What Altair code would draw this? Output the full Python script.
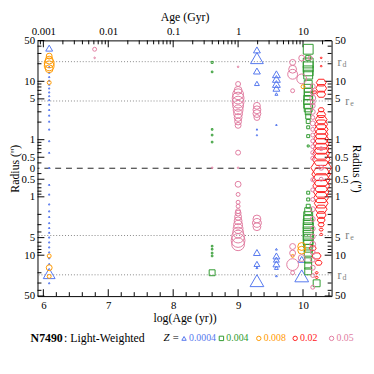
import math
import numpy as np
import pandas as pd
import altair as alt

# ---------------- data -----------------
# each entry: (log age [yr], radius [arcsec], side (+1 upper / -1 lower), marker weight)
POP_0004 = [
    (6.09, 37, 1, 7), (6.09, 17.7, 1, 1.6), (6.09, 14.1, 1, 1.6), (6.09, 11.9, 1, 1.6),
    (6.09, 10.3, 1, 1.6), (6.09, 8.8, 1, 1.6), (6.09, 7.6, 1, 1.6), (6.09, 6.5, 1, 1.6),
    (6.09, 5.6, 1, 1.6), (6.09, 4.8, 1, 1.6), (6.09, 4.0, 1, 1.6), (6.09, 3.25, 1, 1.6),
    (6.09, 2.6, 1, 1.6), (6.09, 2.05, 1, 1.6), (6.09, 1.5, 1, 1.6), (6.09, 0.95, 1, 1.6),
    (6.09, 0.6, 1, 1.6), (6.09, 0.33, 1, 1.6),
    (6.09, 0.62, -1, 1.6), (6.09, 0.91, -1, 1.6), (6.09, 1.34, -1, 1.6), (6.09, 1.76, -1, 1.6),
    (6.09, 2.2, -1, 1.6), (6.09, 2.8, -1, 1.6), (6.09, 3.4, -1, 1.6), (6.09, 4.1, -1, 1.6),
    (6.09, 4.95, -1, 1.6), (6.09, 6.0, -1, 1.6), (6.09, 7.3, -1, 1.6), (6.09, 8.9, -1, 1.6),
    (6.09, 11.2, -1, 1.6), (6.09, 14.1, -1, 1.6), (6.09, 30, -1, 1.6), (6.09, 20.6, -1, 12),
    (9.29, 34.5, 1, 7), (9.29, 25, 1, 13), (9.29, 15, 1, 7), (9.29, 9.2, 1, 5),
    (9.29, 1.5, 1, 1.6), (9.29, 1.2, 1, 1.5),
    (9.29, 9.0, -1, 7), (9.29, 14.1, -1, 6), (9.29, 16.4, -1, 2), (9.29, 27.3, -1, 14),
    (9.59, 13.2, 1, 8), (9.59, 11.0, 1, 8), (9.59, 9.0, 1, 8), (9.59, 7.6, 1, 7),
    (9.59, 6.05, 1, 3), (9.59, 1.8, 1, 1.6),
    (9.59, 7.9, -1, 2), (9.59, 10.3, -1, 7), (9.59, 11.9, -1, 6), (9.59, 14.1, -1, 7),
    (9.59, 16.4, -1, 4), (9.59, 22.6, -1, 2),
    (9.98, 11.8, -1, 7), (9.98, 22.6, -1, 14),
]
POP_004 = [
    (8.60, 21.1, 1, 2), (8.60, 14.5, 1, 1.6), (8.60, 1.5, 1, 1.6), (8.60, 1.2, 1, 1.6), (8.60, 0.91, 1, 1.6),
    (8.60, 7.0, -1, 1.6), (8.60, 7.9, -1, 1.6), (8.60, 9.2, -1, 1.6), (8.60, 10.3, -1, 1.6), (8.60, 20.0, -1, 6),
    (10.08, 35.4, 1, 10), (10.08, 25.2, 1, 5), (10.08, 20.6, 1, 10), (10.08, 17.7, 1, 10),
    (10.08, 15.1, 1, 10), (10.08, 13.0, 1, 9), (10.08, 8.9, 1, 8), (10.08, 7.6, 1, 8),
    (10.08, 6.5, 1, 8), (10.08, 5.6, 1, 8), (10.08, 4.8, 1, 9), (10.08, 4.1, 1, 9),
    (10.08, 3.5, 1, 8), (10.08, 3.0, 1, 6), (10.08, 2.5, 1, 5), (10.08, 2.05, 1, 4),
    (10.08, 1.63, 1, 3), (10.08, 1.15, 1, 3), (10.08, 0.78, 1, 2),
    (10.08, 0.85, -1, 3), (10.08, 1.11, -1, 3), (10.08, 1.45, -1, 4), (10.08, 1.76, -1, 7),
    (10.08, 2.14, -1, 9), (10.08, 2.5, -1, 9), (10.08, 2.9, -1, 10), (10.08, 3.4, -1, 10),
    (10.08, 4.0, -1, 10), (10.08, 4.6, -1, 10), (10.08, 5.4, -1, 10), (10.08, 6.3, -1, 9),
    (10.08, 7.6, -1, 8), (10.08, 9.5, -1, 8), (10.08, 11.9, -1, 7), (10.08, 15.1, -1, 7),
    (10.08, 18.9, -1, 7), (10.21, 30.3, -1, 7),
]
POP_008 = [
    (6.09, 27, 1, 6), (6.09, 23.1, 1, 8), (6.09, 20.6, 1, 10), (6.09, 18.4, 1, 10),
    (6.09, 16.4, 1, 8), (6.09, 9.5, 1, 4),
    (6.09, 10.3, -1, 4), (6.09, 16.4, -1, 6), (6.09, 23.1, -1, 4),
    (9.84, 10.3, -1, 3), (10.0, 8.1, 1, 4), (9.98, 7.1, -1, 8), (9.98, 8.2, -1, 8),
]
POP_02 = [
    (10.28, 25.2, 1, 2), (10.28, 18.2, 1, 2), (10.28, 9.5, 1, 10), (10.28, 7.6, 1, 11),
    (10.28, 6.0, 1, 9), (10.18, 6.5, 1, 4),
    (10.28, 3.25, 1, 6), (10.28, 2.7, 1, 9), (10.28, 2.2, 1, 12), (10.28, 1.83, 1, 13),
    (10.28, 1.5, 1, 14), (10.28, 1.24, 1, 14), (10.28, 1.03, 1, 15), (10.28, 0.85, 1, 16),
    (10.28, 0.70, 1, 16), (10.28, 0.58, 1, 17), (10.28, 0.46, 1, 18), (10.28, 0.33, 1, 21),
    (10.28, 0.41, -1, 19), (10.28, 0.51, -1, 18), (10.28, 0.65, -1, 17), (10.28, 0.82, -1, 16),
    (10.28, 1.03, -1, 15), (10.28, 1.29, -1, 14), (10.28, 1.63, -1, 12), (10.28, 2.05, -1, 10),
    (10.28, 2.5, -1, 8), (10.28, 3.0, -1, 6), (10.28, 3.65, -1, 4), (10.28, 4.4, -1, 3),
    (10.15, 7.6, -1, 7), (10.21, 10.3, -1, 9), (10.24, 13.5, -1, 7), (10.21, 20, -1, 3),
    (10.21, 24, -1, 3),
]
POP_05 = [
    (6.79, 35.4, 1, 4), (6.79, 25.2, 1, 1.6), (8.60, 0.33, 1, 1.6),
    (9.0, 17.7, 1, 1.6), (9.0, 9.0, 1, 5), (9.0, 7.0, 1, 8), (9.0, 6.0, 1, 11), (9.0, 5.16, 1, 12),
    (9.0, 4.4, 1, 12), (9.0, 3.8, 1, 11), (9.0, 3.25, 1, 10), (9.0, 2.8, 1, 9), (9.0, 2.4, 1, 8),
    (9.0, 2.05, 1, 7), (9.0, 1.76, 1, 6), (9.0, 0.6, 1, 5), (9.0, 0.33, 1, 1.6),
    (9.0, 0.61, -1, 6), (9.0, 0.91, -1, 4), (9.0, 1.24, -1, 4), (9.0, 1.45, -1, 4),
    (9.0, 1.76, -1, 5), (9.0, 1.9, -1, 6), (9.0, 2.2, -1, 7), (9.0, 2.58, -1, 8),
    (9.0, 3.0, -1, 9), (9.0, 3.5, -1, 10), (9.0, 4.1, -1, 11), (9.0, 4.8, -1, 13),
    (9.0, 5.6, -1, 14), (9.0, 6.5, -1, 13),
    (9.29, 3.8, 1, 7), (9.29, 3.25, 1, 8), (9.29, 2.8, 1, 8), (9.29, 2.4, 1, 6),
    (9.29, 2.4, -1, 8), (9.29, 2.8, -1, 9), (9.29, 3.25, -1, 8),
    (9.84, 21.1, 1, 6), (9.84, 16.1, 1, 8), (9.84, 13.2, 1, 10), (9.84, 6.9, 1, 4),
    (9.84, 7.1, -1, 6), (9.84, 9.2, -1, 6), (9.84, 14.5, -1, 12), (9.84, 20, -1, 4),
    (9.98, 11.0, 1, 10), (9.98, 25, 1, 6), (9.98, 11.2, -1, 7), (10.11, 25.2, 1, 4),
    (10.15, 8.2, 1, 5), (10.15, 6.5, 1, 5), (10.15, 5.16, 1, 6), (10.15, 4.4, 1, 5),
    (10.15, 3.8, 1, 5), (10.15, 3.0, 1, 5), (10.15, 2.4, 1, 4), (10.15, 1.9, 1, 5),
    (10.15, 1.5, 1, 4), (10.15, 1.2, 1, 4), (10.15, 0.95, 1, 4), (10.15, 0.76, 1, 4),
    (10.15, 0.60, 1, 4), (10.15, 0.48, 1, 4),
    (10.15, 0.51, -1, 4), (10.15, 0.76, -1, 4), (10.15, 1.11, -1, 4), (10.15, 1.63, -1, 5),
    (10.15, 2.4, -1, 5), (10.15, 3.5, -1, 5), (10.15, 4.8, -1, 5), (10.15, 6.5, -1, 6),
    (10.15, 8.9, -1, 5), (10.15, 11.9, -1, 5), (10.15, 16.4, -1, 5), (10.15, 22.3, -1, 4),
    (10.15, 35.4, -1, 4),
    (10.28, 0.33, 1, 5), (10.28, 0.7, 1, 4), (10.28, 0.5, -1, 4),
]

Z_LABELS = ["0.0004", "0.004", "0.008", "0.02", "0.05"]
POPS = [POP_0004, POP_004, POP_008, POP_02, POP_05]
Z_COLORS = ["#5577ee", "#2f9a2f", "#ff9900", "#ff2020", "#e07ca0"]
HEX = "M-1,0L-0.55,-0.68L0.55,-0.68L1,0L0.55,0.68L-0.55,0.68Z"
Z_SHAPES = ["triangle-up", "square", "circle", HEX, "circle"]

R_E = 4.6      # effective radius (arcsec)
R_D = 21.7     # disc scale radius (arcsec)
R_ZERO = 0.324 # radius at the centre line
R_MAX = 50
X_DOMAIN = [5.91, 10.44]
X_MAJOR = [6, 7, 8, 9, 10]
TOP_LABELS = ["0.001", "0.01", "0.1", "1", "10"]
Y_MAJOR = [0.5, 1, 5, 10, 50]
Y_MINOR = [0.4, 0.6, 0.7, 0.8, 0.9, 2, 3, 4, 6, 7, 8, 9, 20, 30, 40]

# ---------------- layout / style -----------------
W, H = 299, 260
FONT = "Liberation Serif"
MAJ, MIN = 7, 4

C = -math.log10(R_ZERO)
YMAX = math.log10(R_MAX) + C + 0.002


def ypos(r, s):
    return s * (math.log10(r) + C)


rows = []
for zi, (z, pop) in enumerate(zip(Z_LABELS, POPS)):
    for age, r, s, w in pop:
        rows.append(dict(age=age, r=r, side=s, Z=z, zi=zi, y=ypos(r, s), area=w * w))
df = pd.DataFrame(rows)

xs = alt.Scale(domain=X_DOMAIN, nice=False, zero=False)
ys = alt.Scale(domain=[-YMAX, YMAX], nice=False, zero=False)

ytick_vals = sorted([ypos(r, s) for r in Y_MAJOR for s in (1, -1)] + [0.0])
ylab_expr = f"abs(datum.value) < 1e-6 ? '0' : format(pow(10, abs(datum.value) - {C}), '.2~r')"
top_expr = "[" + ",".join(f"'{t}'" for t in TOP_LABELS) + f"][round(datum.value) - {X_MAJOR[0]}]"

points = alt.Chart(df).mark_point(filled=False, strokeWidth=1, opacity=1).encode(
    x=alt.X("age:Q", scale=xs, axis=alt.Axis(orient="bottom", values=X_MAJOR, format="d",
                                              title="log(Age (yr))", labelPadding=4, titlePadding=2,
                                              labelFlush=False)),
    y=alt.Y("y:Q", scale=ys, axis=alt.Axis(orient="left", values=ytick_vals, labelExpr=ylab_expr,
                                            title="Radius ('')", labelPadding=3, titlePadding=0,
                                            labelOverlap=False, labelFlush=False)),
    color=alt.Color("Z:N", scale=alt.Scale(domain=Z_LABELS, range=Z_COLORS), legend=None),
    shape=alt.Shape("Z:N", scale=alt.Scale(domain=Z_LABELS, range=Z_SHAPES), legend=None),
    size=alt.Size("area:Q", scale=None),
    order=alt.Order("zi:Q"),
)

carrier = alt.Chart(pd.DataFrame({"x": X_MAJOR, "y": [0.0] * len(X_MAJOR)})).mark_point(opacity=0).encode(
    x=alt.X("x:Q", scale=xs, axis=alt.Axis(orient="top", values=X_MAJOR, labelExpr=top_expr,
                                            title="Age (Gyr)", labelPadding=4, titlePadding=2,
                                            labelFlush=False)),
    y=alt.Y("y:Q", scale=ys, axis=alt.Axis(orient="right", values=ytick_vals, labelExpr=ylab_expr,
                                            title="Radius ('')", labelPadding=3, titlePadding=2,
                                            labelOverlap=False, labelFlush=False)),
)

# reference lines
dotted = alt.Chart(pd.DataFrame({"y": [ypos(R_E, 1), ypos(R_E, -1), ypos(R_D, 1), ypos(R_D, -1)]})).mark_rule(
    color="#888888", strokeDash=[1, 2], strokeWidth=1).encode(y=alt.Y("y:Q", scale=ys, axis=None))
dashed = alt.Chart(pd.DataFrame({"y": [0.0]})).mark_rule(
    color="#222222", strokeDash=[6, 5], strokeWidth=1).encode(y=alt.Y("y:Q", scale=ys, axis=None))

# tick marks (inward)
ymaj = [ypos(r, s) for r in Y_MAJOR for s in (1, -1)]
ymin = [ypos(r, s) for r in Y_MINOR for s in (1, -1)]
xmin_bot = [round(v, 2) for v in np.arange(6.0, 10.44, 0.2) if abs(v - round(v)) > 1e-6]
xmin_top = [n + math.log10(k) for n in range(5, 11) for k in range(2, 10)
            if X_DOMAIN[0] < n + math.log10(k) < X_DOMAIN[1]]

tick_layers = []
for vals, ln in ((ymaj, MAJ), (ymin, MIN)):
    d = pd.DataFrame({"y": vals})
    tick_layers.append(alt.Chart(d).mark_rule(color="black", strokeWidth=1).encode(
        y=alt.Y("y:Q", scale=ys, axis=None), x=alt.value(0), x2=alt.value(ln)))
    tick_layers.append(alt.Chart(d).mark_rule(color="black", strokeWidth=1).encode(
        y=alt.Y("y:Q", scale=ys, axis=None), x=alt.value(W), x2=alt.value(W - ln)))
for vals, ln in ((X_MAJOR, MAJ), (xmin_bot, MIN)):
    d = pd.DataFrame({"x": vals})
    tick_layers.append(alt.Chart(d).mark_rule(color="black", strokeWidth=1).encode(
        x=alt.X("x:Q", scale=xs, axis=None), y=alt.value(H), y2=alt.value(H - ln)))
for vals, ln in ((X_MAJOR, MAJ), (xmin_top, MIN)):
    d = pd.DataFrame({"x": vals})
    tick_layers.append(alt.Chart(d).mark_rule(color="black", strokeWidth=1).encode(
        x=alt.X("x:Q", scale=xs, axis=None), y=alt.value(0), y2=alt.value(ln)))

# r_e / r_d labels on the right
rlab = []
for name, rv, dx in (("d", R_D, 6), ("e", R_E, 14)):
    d = pd.DataFrame({"y": [ypos(rv, 1), ypos(rv, -1)], "t": ["r", "r"], "s": [name, name]})
    rlab.append(alt.Chart(d).mark_text(align="left", baseline="middle", font=FONT, fontSize=12,
                                       color="#808080").encode(
        y=alt.Y("y:Q", scale=ys, axis=None), x=alt.value(W + dx), text="t:N"))
    rlab.append(alt.Chart(d).mark_text(align="left", baseline="middle", font=FONT, fontSize=8,
                                       color="#808080", dy=3).encode(
        y=alt.Y("y:Q", scale=ys, axis=None), x=alt.value(W + dx + 5), text="s:N"))

# bottom legend line
LY = H + 43
leg = []


def txt(t, x, **kw):
    return alt.Chart(pd.DataFrame({"t": [t]})).mark_text(
        align="left", baseline="middle", font=FONT, **kw).encode(
        x=alt.value(x), y=alt.value(LY), text="t:N")


leg.append(txt("N7490", -7, fontSize=12, fontWeight="bold", color="black"))
leg.append(txt(": Light-Weighted", 27, fontSize=12, color="black"))
leg.append(txt("Z =", 128, fontSize=11, fontStyle="italic", color="black"))
LEG_X = [149, 187, 225, 262, 299]
for i, z in enumerate(Z_LABELS):
    shp = Z_SHAPES[i] if i != 3 else "circle"
    leg.append(alt.Chart(pd.DataFrame({"a": [1]})).mark_point(
        shape=shp, filled=False, size=20, strokeWidth=1, color=Z_COLORS[i], opacity=1).encode(
        x=alt.value(LEG_X[i]), y=alt.value(LY)))
    leg.append(txt(z, LEG_X[i] + 5, fontSize=10, color=Z_COLORS[i]))

chart = alt.layer(
    dotted, dashed, *tick_layers, points, carrier, *rlab, *leg
).resolve_axis(x="independent", y="independent").properties(
    width=W, height=H,
    autosize=alt.AutoSizeParams(type="none"),
    padding={"left": 30, "top": 30, "right": 35, "bottom": 60},
).configure_view(stroke="black", strokeWidth=1).configure_axis(
    labelFont=FONT, titleFont=FONT, labelFontSize=11, titleFontSize=12,
    titleFontWeight="normal", labelColor="black", titleColor="black",
    grid=False, ticks=False, domain=False,
)

chart.save("out.html", embed_options={"renderer": "svg", "actions": False})
